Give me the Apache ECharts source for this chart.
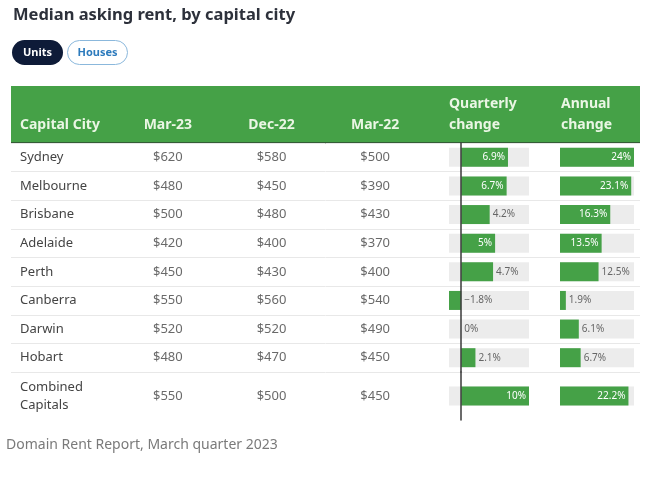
<!DOCTYPE html>
<html><head><meta charset="utf-8">
<script src="https://cdn.jsdelivr.net/npm/echarts@6/dist/echarts.min.js"></script>
<style>html,body{margin:0;padding:0;background:#fff}#c{width:654px;height:479px}</style>
</head><body><div id="c"></div>
<script>
const cities = ['Sydney','Melbourne','Brisbane','Adelaide','Perth','Canberra','Darwin','Hobart'];
const combinedLabel = ['Combined\nCapitals'];
const columns = ['Mar-23','Dec-22','Mar-22'];
const mar23 = [620,480,500,420,450,550,520,480];
const dec22 = [580,450,480,400,430,560,520,470];
const mar22 = [500,390,430,370,400,540,490,450];
const combinedRents = [550,500,450];
const quarterly = [6.9,6.7,4.2,5,4.7,-1.8,0,2.1];
const annual = [24,23.1,16.3,13.5,12.5,1.9,6.1,6.7];
const combinedQuarterly = [10];
const combinedAnnual = [22.2];

const FONT = 'Noto Sans';
const GREEN = '#45a147';
const qMin = Math.min(...quarterly, ...combinedQuarterly), qMax = Math.max(...quarterly, ...combinedQuarterly);
const aMin = 0, aMax = Math.max(...annual, ...combinedAnnual);
const Q_W = 80, A_W = 74;

function fmtPct(v){ return (v < 0 ? '\u2212' + Math.abs(v) : String(v)) + '%'; }
function barData(vals, pxPerUnit){
  return vals.map(v => {
    const txt = fmtPct(v);
    const inside = Math.abs(v) * pxPerUnit - txt.length * 5.5 > 14;
    return { value: v, label: inside
      ? { position: 'insideRight', color: '#ffffff', distance: 3 }
      : { position: 'right', color: '#666666', distance: 3 } };
  });
}
function rentSeries(xi, yi, cats, rowsByCol){
  const data = [];
  columns.forEach((col, k) => cats.forEach((c, i) => data.push([col, c, rowsByCol[k][i]])));
  return { type: 'scatter', xAxisIndex: xi, yAxisIndex: yi, data, symbolSize: 1,
    itemStyle: { color: 'rgba(0,0,0,0)' }, silent: true,
    label: { show: true, position: 'inside', formatter: p => '$' + p.value[2],
      fontFamily: FONT, fontSize: 13, color: '#444' } };
}
const combinedCols = [[combinedRents[0]],[combinedRents[1]],[combinedRents[2]]];

const chart = echarts.init(document.getElementById('c'), null, { renderer: 'canvas' });
const TOP = 143, ROWS_H = 229, COMB_H = 48;
const grids = [
  { left: 11, width: 629, top: TOP, height: ROWS_H },
  { left: 116, width: 311, top: TOP, height: ROWS_H },
  { left: 116, width: 311, top: TOP + ROWS_H, height: COMB_H },
  { left: 449, width: Q_W, top: TOP, height: ROWS_H },
  { left: 449, width: Q_W, top: TOP + ROWS_H, height: COMB_H },
  { left: 560, width: A_W, top: TOP, height: ROWS_H },
  { left: 560, width: A_W, top: TOP + ROWS_H, height: COMB_H }
];
const hiddenVal = (gi, min, max) => ({ type: 'value', gridIndex: gi, min, max, show: false });
const xAxes = [
  hiddenVal(0, 0, 1),
  { type: 'category', gridIndex: 1, data: columns, position: 'top',
    axisLine: { show: false }, axisTick: { show: false }, splitLine: { show: false },
    axisLabel: { margin: 11, fontFamily: FONT, fontSize: 14, fontWeight: 'bold', color: '#eaf6e4' } },
  { type: 'category', gridIndex: 2, data: columns, show: false },
  hiddenVal(3, qMin, qMax), hiddenVal(4, qMin, qMax),
  hiddenVal(5, aMin, aMax), hiddenVal(6, aMin, aMax)
];
const catY = (gi, data, extra) => Object.assign({ type: 'category', gridIndex: gi, data, inverse: true,
  axisTick: { show: false }, axisLine: { show: false }, axisLabel: { show: false }, splitLine: { show: false } }, extra || {});
const rowLabel = { show: true, align: 'left', margin: 96, fontFamily: FONT, fontSize: 13, color: '#444', lineHeight: 18 };
const zeroLine = { show: true, onZero: true, lineStyle: { color: '#3a3a3a', width: 1.5 } };
const yAxes = [
  catY(0, cities, { splitLine: { show: true, interval: 0, lineStyle: { color: '#e8e8e8', width: 1 } } }),
  catY(1, cities, { axisLabel: rowLabel }),
  catY(2, combinedLabel, { axisLabel: rowLabel }),
  catY(3, cities, { axisLine: zeroLine, z: 10 }),
  catY(4, combinedLabel, { axisLine: zeroLine, z: 10 }),
  catY(5, cities), catY(6, combinedLabel)
];
const barBase = (xi, data) => ({ type: 'bar', xAxisIndex: xi, yAxisIndex: xi, data, barWidth: 19,
  itemStyle: { color: GREEN }, showBackground: true, backgroundStyle: { color: '#ececec' },
  label: { show: true, fontFamily: FONT, fontSize: 10, formatter: p => fmtPct(p.value) } });

chart.setOption({
  animation: false,
  grid: grids, xAxis: xAxes, yAxis: yAxes,
  graphic: [
    { type: 'text', left: 13, top: 7, style: { text: 'Median asking rent, by capital city', fontFamily: FONT, fontSize: 16.5, fontWeight: 'bold', fill: '#2d313b' } },
    { type: 'rect', shape: { x: 12, y: 40, width: 51, height: 25, r: 12.5 }, style: { fill: '#0e1b38' } },
    { type: 'text', x: 37.5, y: 52.5, style: { text: 'Units', fontFamily: FONT, fontSize: 11, fontWeight: 'bold', fill: '#fff', align: 'center', verticalAlign: 'middle' } },
    { type: 'rect', shape: { x: 67.5, y: 40.5, width: 60, height: 24, r: 12 }, style: { fill: '#fff', stroke: '#8bb8dc', lineWidth: 1 } },
    { type: 'text', x: 97.5, y: 52.5, style: { text: 'Houses', fontFamily: FONT, fontSize: 11, fontWeight: 'bold', fill: '#2d7bbd', align: 'center', verticalAlign: 'middle' } },
    { type: 'rect', z: -10, shape: { x: 11, y: 86, width: 629, height: 57 }, style: { fill: GREEN } },
    { type: 'rect', z: -9, shape: { x: 11, y: 142, width: 629, height: 2 }, style: { fill: '#345c36' } },
    { type: 'text', x: 20, y: 125, style: { text: 'Capital City', fontFamily: FONT, fontSize: 14, fontWeight: 'bold', fill: '#eaf6e4', verticalAlign: 'middle' } },
    { type: 'text', x: 449, y: 115, style: { text: 'Quarterly\nchange', fontFamily: FONT, fontSize: 14, fontWeight: 'bold', fill: '#eaf6e4', verticalAlign: 'middle', lineHeight: 21 } },
    { type: 'text', x: 561, y: 115, style: { text: 'Annual\nchange', fontFamily: FONT, fontSize: 14, fontWeight: 'bold', fill: '#eaf6e4', verticalAlign: 'middle', lineHeight: 21 } },
    { type: 'text', x: 6, y: 445, style: { text: 'Domain Rent Report, March quarter 2023', fontFamily: FONT, fontSize: 14, fill: '#7a7a7a', verticalAlign: 'middle' } }
  ],
  series: [
    rentSeries(1, 1, cities, [mar23, dec22, mar22]),
    rentSeries(2, 2, combinedLabel, combinedCols),
    barBase(3, barData(quarterly, Q_W / (qMax - qMin))),
    barBase(4, barData(combinedQuarterly, Q_W / (qMax - qMin))),
    barBase(5, barData(annual, A_W / (aMax - aMin))),
    barBase(6, barData(combinedAnnual, A_W / (aMax - aMin)))
  ]
});
</script></body></html>
